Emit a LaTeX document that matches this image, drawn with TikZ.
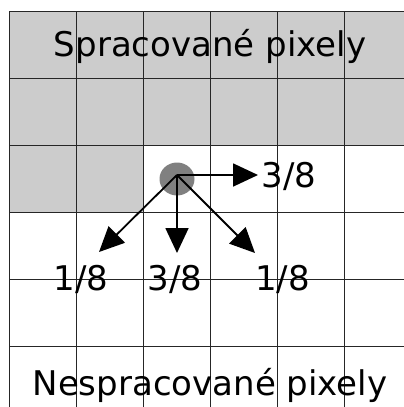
\documentclass[tikz,border=0pt]{standalone}
\usepackage{fontspec}
\setmainfont{DejaVu Sans}
\usetikzlibrary{arrows.meta,shapes.geometric}
\definecolor{done}{HTML}{CCCCCC}
\definecolor{dot}{HTML}{808080}
\definecolor{gridc}{HTML}{262626}
\tikzset{
  gridline/.style={draw=gridc, line width=1pt},
  flow/.style={draw=black, line width=1.8pt, -{Triangle[length=25pt,width=23pt]}},
  lbl/.style={font=\fontsize{34}{40}\selectfont, inner sep=0pt, anchor=base},
}
\begin{document}
\begin{tikzpicture}[x=1pt,y=-1pt]
\useasboundingbox (0,0) rectangle (404,407);
\fill[white] (0,0) rectangle (404,407);
\begin{scope}
\clip (0,0) rectangle (404,407);
% processed cells
\fill[done] (9,11) rectangle (420,145);
\fill[done] (9,145) rectangle (143,212);
% grid
\foreach \gx in {9,76,143,210,277,344}
  \draw[gridline] (\gx,11) -- (\gx,420);
\foreach \gy in {11,78,145,212,279,346}
  \draw[gridline] (9,\gy) -- (420,\gy);
\end{scope}
% current pixel
\node[draw=none, fill=dot, ellipse, minimum width=35pt, minimum height=33pt, inner sep=0pt] (px) at (177,179) {};
\coordinate (o) at (177,175);
\coordinate (tr) at (258,175);
\coordinate (tdl) at (99,252);
\coordinate (td) at (177,253);
\coordinate (tdr) at (255,253);
\draw[flow] (o) -- (tr);
\draw[flow] (o) -- (tdl);
\draw[flow] (o) -- (td);
\draw[flow] (o) -- (tdr);
% labels
\node[lbl] (top) at (210,56) {Spracované pixely};
\node[lbl] (bot) at (210,395) {Nespracované pixely};
\node[lbl] (wr) at (289,187) {3/8};
\node[lbl] (wdl) at (81,290) {1/8};
\node[lbl] (wd) at (175,290) {3/8};
\node[lbl] (wdr) at (282.5,290) {1/8};
\end{tikzpicture}
\end{document}
